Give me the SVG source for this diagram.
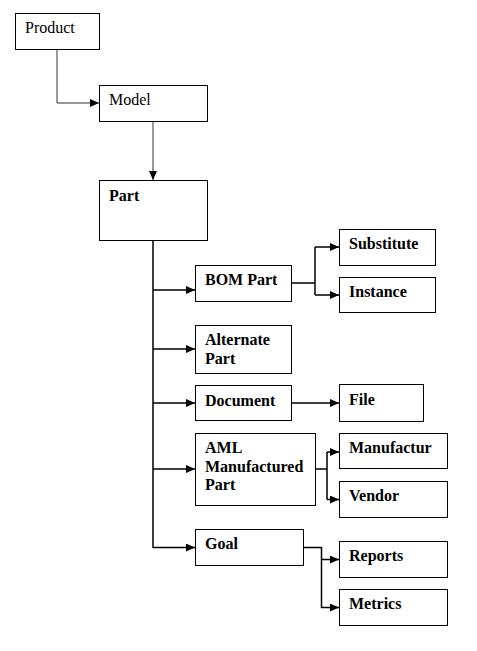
<svg xmlns="http://www.w3.org/2000/svg" width="477" height="651" viewBox="0 0 477 651">
<style>
.box{fill:#fff;stroke:#000;stroke-width:1}
.t{font-family:"Liberation Serif","Times New Roman","DejaVu Serif",serif;font-size:16px;fill:#000}
.r{font-family:"Liberation Serif","Times New Roman","DejaVu Serif",serif;font-weight:normal;font-style:normal}
.b{font-weight:bold}
.c{fill:none;stroke:#000;stroke-width:1.5}
.g{fill:none;stroke:#333;stroke-width:1}
</style>
<defs>
<marker id="a" markerUnits="userSpaceOnUse" markerWidth="9" markerHeight="8" refX="9" refY="4" orient="auto">
<path d="M0,0 L9,4 L0,8 z" fill="#000"/>
</marker>
</defs>
<rect width="477" height="651" fill="#fff"/>
<g id="connectors">
<path class="g" d="M57,49 V103 H99" marker-end="url(#a)"/>
<path class="g" d="M153,121 V180" marker-end="url(#a)"/>
<path class="c" d="M153,240 V548" stroke-width="2"/>
<path class="c" d="M153,290 H195" marker-end="url(#a)"/>
<path class="c" d="M153,349 H195" marker-end="url(#a)"/>
<path class="c" d="M153,403 H195" marker-end="url(#a)"/>
<path class="c" d="M153,469 H195" marker-end="url(#a)"/>
<path class="c" d="M153,547.5 H195" marker-end="url(#a)"/>
<path class="c" d="M291,283 H315"/>
<path class="c" d="M315,247 V295"/>
<path class="c" d="M315,247 H339" marker-end="url(#a)"/>
<path class="c" d="M315,295 H339" marker-end="url(#a)"/>
<path class="c" d="M291,403 H339" marker-end="url(#a)"/>
<path class="c" d="M316,469 H327"/>
<path class="c" d="M327,452 V499.5"/>
<path class="c" d="M327,452 H339" marker-end="url(#a)"/>
<path class="c" d="M327,499.5 H339" marker-end="url(#a)"/>
<path class="c" d="M303,547.5 H321.5 V608"/>
<path class="c" d="M321.5,559.5 H339" marker-end="url(#a)"/>
<path class="c" d="M321.5,607.5 H339" marker-end="url(#a)"/>
</g>
<g id="product"><rect class="box" x="15.5" y="13.5" width="84" height="36"/><text class="t r" x="25" y="33">Product</text></g>
<g id="model"><rect class="box" x="99.5" y="85.5" width="108" height="36"/><text class="t r" x="109" y="105">Model</text></g>
<g id="part"><rect class="box" x="99.5" y="180.5" width="108" height="60"/><text class="t b" x="109" y="201">Part</text></g>
<g id="bompart"><rect class="box" x="195.5" y="265.5" width="96" height="36"/><text class="t b" x="205" y="285">BOM Part</text></g>
<g id="substitute"><rect class="box" x="339.5" y="229.5" width="96" height="36"/><text class="t b" x="349" y="249">Substitute</text></g>
<g id="instance"><rect class="box" x="339.5" y="277.5" width="96" height="35"/><text class="t b" x="349" y="297">Instance</text></g>
<g id="alternatepart"><rect class="box" x="195.5" y="325.5" width="96" height="48"/><text class="t b" x="205" y="345">Alternate</text><text class="t b" x="205" y="364">Part</text></g>
<g id="document"><rect class="box" x="195.5" y="385.5" width="96" height="35"/><text class="t b" x="205" y="406">Document</text></g>
<g id="file"><rect class="box" x="339.5" y="384.5" width="84" height="37"/><text class="t b" x="349" y="405">File</text></g>
<g id="aml"><rect class="box" x="195.5" y="433.5" width="120" height="72"/><text class="t b" x="205" y="453">AML</text><text class="t b" x="205" y="471.5">Manufactured</text><text class="t b" x="205" y="490">Part</text></g>
<g id="manufactur"><rect class="box" x="339.5" y="433.5" width="108" height="35"/><text class="t b" x="349" y="453">Manufactur</text></g>
<g id="vendor"><rect class="box" x="339.5" y="481.5" width="108" height="36"/><text class="t b" x="349" y="501">Vendor</text></g>
<g id="goal"><rect class="box" x="195.5" y="529.5" width="108" height="36"/><text class="t b" x="205" y="549">Goal</text></g>
<g id="reports"><rect class="box" x="339.5" y="541.5" width="108" height="36"/><text class="t b" x="349" y="561">Reports</text></g>
<g id="metrics"><rect class="box" x="339.5" y="589.5" width="108" height="36"/><text class="t b" x="349" y="609">Metrics</text></g>
</svg>
